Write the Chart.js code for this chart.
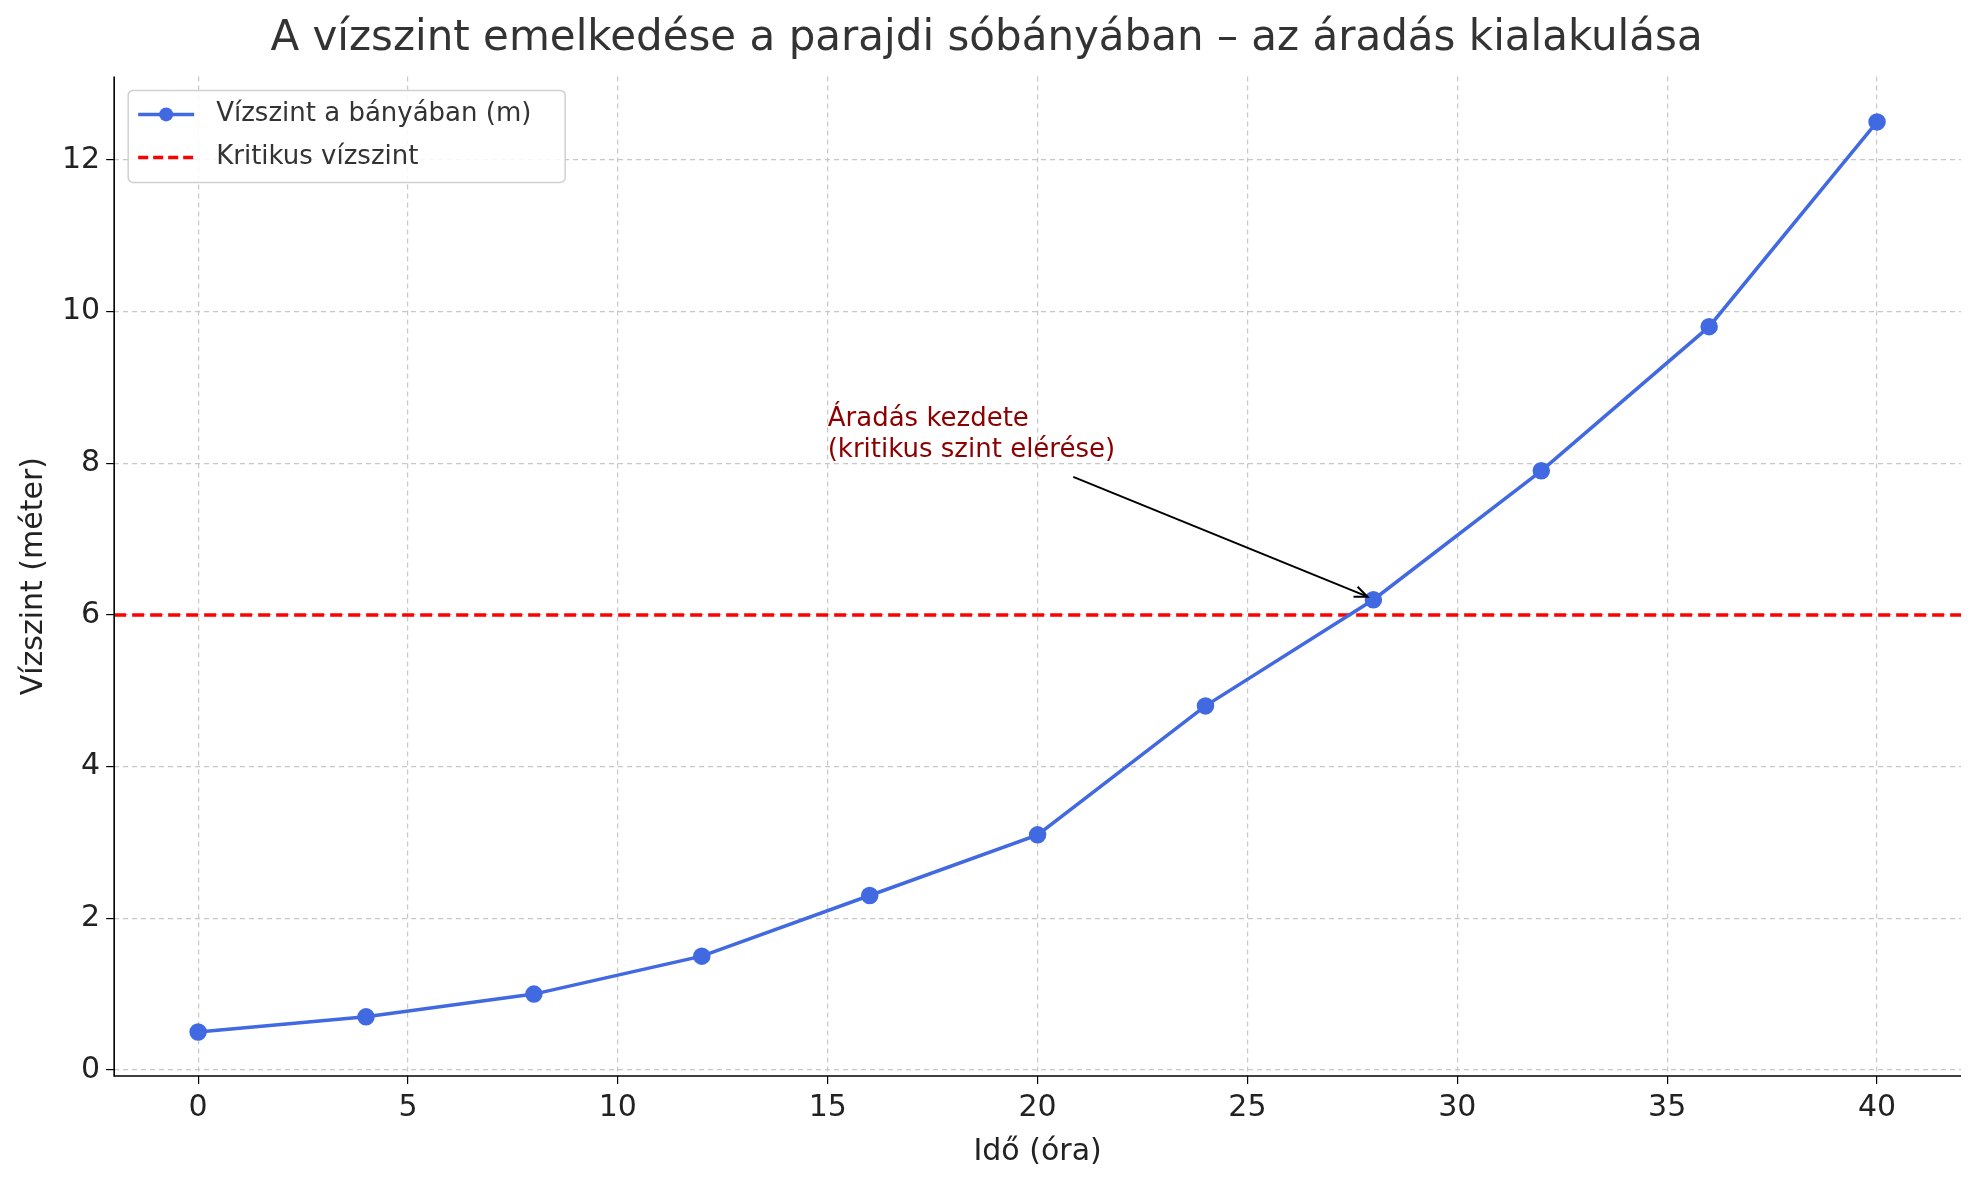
<!DOCTYPE html>
<html>
<head>
<meta charset="utf-8">
<script src="https://cdn.jsdelivr.net/npm/chart.js@4/dist/chart.umd.min.js"></script>
<style>
  html, body { margin: 0; padding: 0; background: #fff; }
  #wrap { width: 1979px; height: 1180px; }
</style>
</head>
<body>
<div id="wrap"><canvas id="c"></canvas></div>
<script>
const hours = [0, 4, 8, 12, 16, 20, 24, 28, 32, 36, 40];
const levels = [0.5, 0.7, 1.0, 1.5, 2.3, 3.1, 4.8, 6.2, 7.9, 9.8, 12.5];
const criticalLevel = 6;
const xTicks = [0, 5, 10, 15, 20, 25, 30, 35, 40];
const yTicks = [0, 2, 4, 6, 8, 10, 12];
const seriesNames = ['Vízszint a bányában (m)', 'Kritikus vízszint'];
const noteLines = ['Áradás kezdete', '(kritikus szint elérése)'];

const FONT = "'DejaVu Sans', sans-serif";

const overlay = {
    id: 'overlay',
    afterDraw(chart) {
        const { ctx, scales: { x, y }, chartArea: a } = chart;
        ctx.save();
        // spines
        ctx.strokeStyle = '#000';
        ctx.lineWidth = 1.6;
        ctx.beginPath();
        ctx.moveTo(a.left, a.top); ctx.lineTo(a.left, a.bottom); ctx.lineTo(a.right, a.bottom);
        ctx.stroke();

        // annotation
        ctx.fillStyle = '#8b0000';
        ctx.font = '26px ' + FONT;
        ctx.textBaseline = 'top';
        const tx = x.getPixelForValue(15), ty = y.getPixelForValue(8.75);
        noteLines.forEach((l, i) => ctx.fillText(l, tx, ty + i * 31));
        const x0 = x.getPixelForValue(20.85), y0 = y.getPixelForValue(7.82);
        const x1 = x.getPixelForValue(27.86), y1 = y.getPixelForValue(6.24);
        ctx.strokeStyle = '#000';
        ctx.lineWidth = 2;
        ctx.beginPath(); ctx.moveTo(x0, y0); ctx.lineTo(x1, y1); ctx.stroke();
        const ang = Math.atan2(y1 - y0, x1 - x0);
        ctx.beginPath();
        ctx.moveTo(x1 - 14 * Math.cos(ang - 0.4), y1 - 14 * Math.sin(ang - 0.4));
        ctx.lineTo(x1, y1);
        ctx.lineTo(x1 - 14 * Math.cos(ang + 0.4), y1 - 14 * Math.sin(ang + 0.4));
        ctx.stroke();

        // legend
        const lx = a.left + 14, ly = a.top + 14;
        ctx.fillStyle = 'rgba(255,255,255,0.85)';
        ctx.strokeStyle = '#d0d0d0';
        ctx.lineWidth = 1.5;
        ctx.beginPath(); ctx.roundRect(lx, ly, 437, 92, 5); ctx.fill(); ctx.stroke();
        ctx.font = '26px ' + FONT;
        ctx.textBaseline = 'middle';
        const rows = [ly + 24, ly + 67];
        ctx.strokeStyle = '#4169e1'; ctx.lineWidth = 3.5;
        ctx.beginPath(); ctx.moveTo(lx + 10, rows[0]); ctx.lineTo(lx + 66, rows[0]); ctx.stroke();
        ctx.fillStyle = '#4169e1';
        ctx.beginPath(); ctx.arc(lx + 38, rows[0], 7, 0, Math.PI * 2); ctx.fill();
        ctx.strokeStyle = '#ff0000'; ctx.setLineDash([10, 5]);
        ctx.beginPath(); ctx.moveTo(lx + 10, rows[1]); ctx.lineTo(lx + 66, rows[1]); ctx.stroke();
        ctx.setLineDash([]);
        ctx.fillStyle = '#333';
        ctx.fillText(seriesNames[0], lx + 88, rows[0]);
        ctx.fillText(seriesNames[1], lx + 88, rows[1]);
        ctx.restore();
    }
};

new Chart(document.getElementById('c'), {
    type: 'scatter',
    data: {
        datasets: [
            {
                label: seriesNames[0],
                data: hours.map((h, i) => ({ x: h, y: levels[i] })),
                showLine: true,
                borderColor: '#4169e1',
                backgroundColor: '#4169e1',
                borderWidth: 3.5,
                pointRadius: 7,
                pointHoverRadius: 7,
                order: 1
            },
            {
                label: seriesNames[1],
                data: [{ x: -2, y: criticalLevel }, { x: 42, y: criticalLevel }],
                showLine: true,
                borderColor: '#ff0000',
                borderWidth: 3.5,
                borderDash: [12, 6],
                pointRadius: 0,
                order: 2
            }
        ]
    },
    options: {
        responsive: true,
        maintainAspectRatio: false,
        animation: false,
        layout: { padding: { left: 12, right: 18, top: 0, bottom: 6 } },
        plugins: {
            legend: { display: false },
            tooltip: { enabled: false },
            title: {
                display: true,
                text: 'A vízszint emelkedése a parajdi sóbányában – az áradás kialakulása',
                color: '#333',
                font: { family: FONT, size: 42, weight: 'normal' },
                padding: { top: 14, bottom: 12 }
            }
        },
        scales: {
            x: {
                type: 'linear', min: -2, max: 42,
                afterBuildTicks: s => { s.ticks = xTicks.map(v => ({ value: v })); },
                grid: { color: '#c8c8c8', lineWidth: 1.2, tickColor: '#000', tickLength: 8 },
                border: { display: false, dash: [5, 4] },
                ticks: { color: '#222', font: { family: FONT, size: 30 }, padding: 6 },
                title: { display: true, text: 'Idő (óra)', color: '#222', font: { family: FONT, size: 30 }, padding: { top: 2 } }
            },
            y: {
                type: 'linear', min: -0.08, max: 13.1,
                afterBuildTicks: s => { s.ticks = yTicks.map(v => ({ value: v })); },
                grid: { color: '#c8c8c8', lineWidth: 1.2, tickColor: '#000', tickLength: 8 },
                border: { display: false, dash: [5, 4] },
                ticks: { color: '#222', font: { family: FONT, size: 30 }, padding: 6 },
                title: { display: true, text: 'Vízszint (méter)', color: '#222', font: { family: FONT, size: 30 } }
            }
        }
    },
    plugins: [overlay]
});
</script>
</body>
</html>
